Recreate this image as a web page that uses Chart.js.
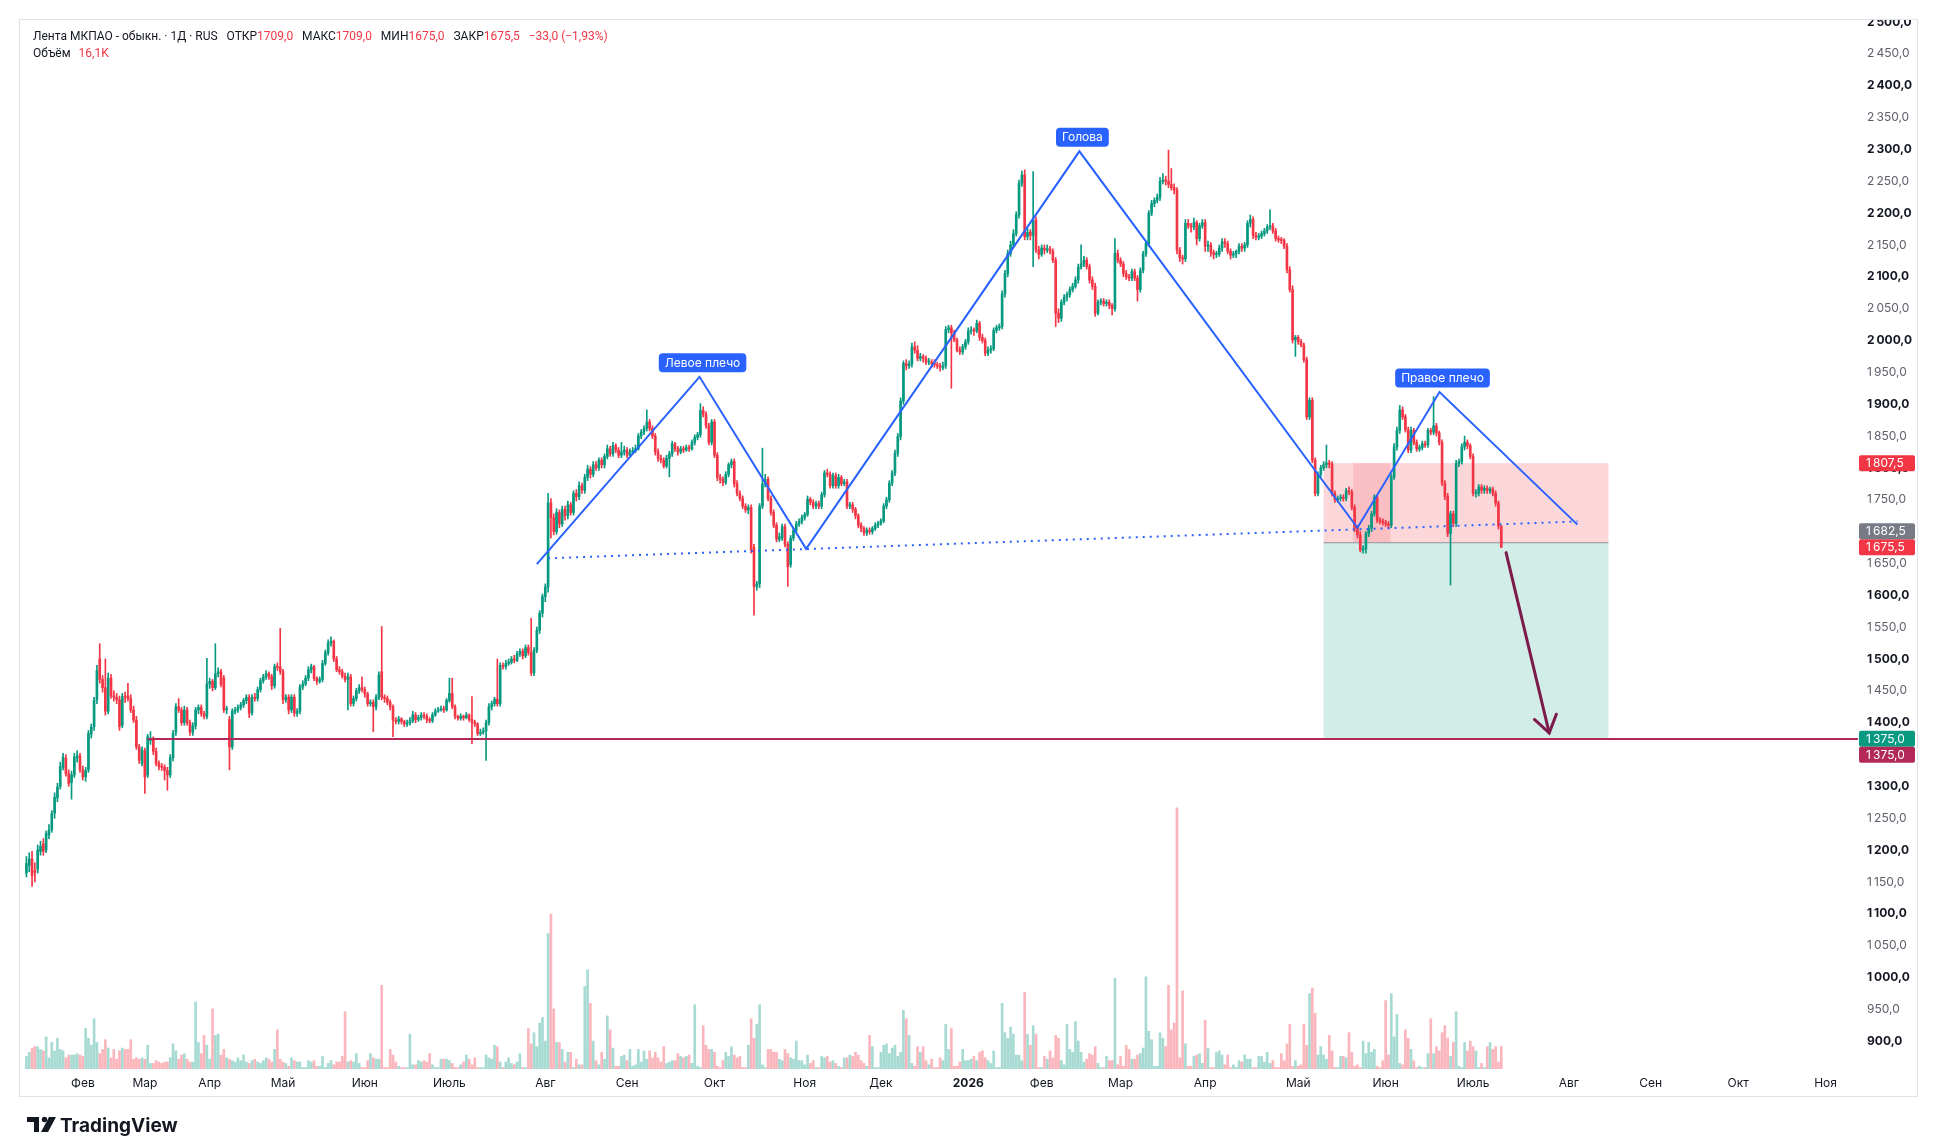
<!DOCTYPE html>
<html lang="ru">
<head>
<meta charset="utf-8">
<title>Лента МКПАО - обыкн. · 1Д</title>
<script src="https://cdn.jsdelivr.net/npm/chart.js@4.4.1/dist/chart.umd.min.js"></script>
<style>
  html, body { margin: 0; padding: 0; background: #fff; overflow: hidden; }
  #wrap { width: 1938px; height: 1142px; position: relative; }
</style>
</head>
<body>
<div id="wrap"><canvas id="chart"></canvas></div>
<script>
// daily candles (index 0 = first bar on the left)
const opens = [
  1164,1176,1186,1168,1170,1198,1210,1200,1224,1232,
  1258,1282,1300,1330,1344,1320,1306,1318,1345,1348,
  1326,1315,1326,1382,1394,1436,1500,1468,1455,1418,
  1470,1442,1440,1436,1396,1441,1442,1438,1420,1404,
  1362,1336,1356,1318,1372,1375,1355,1336,1331,1330,
  1325,1318,1345,1385,1425,1420,1400,1420,1400,1385,
  1395,1420,1424,1414,1410,1461,1465,1455,1477,1480,
  1470,1420,1405,1362,1418,1420,1424,1428,1435,1440,
  1415,1440,1438,1452,1466,1472,1477,1472,1458,1488,
  1488,1480,1436,1440,1420,1440,1415,1418,1456,1461,
  1470,1483,1488,1470,1465,1468,1493,1510,1525,1528,
  1500,1483,1480,1473,1468,1472,1430,1438,1450,1455,
  1452,1445,1430,1432,1425,1440,1480,1440,1438,1432,
  1425,1404,1402,1406,1402,1398,1400,1403,1412,1405,
  1408,1412,1410,1405,1403,1412,1418,1420,1422,1420,
  1435,1446,1425,1410,1407,1410,1408,1412,1405,1400,
  1398,1383,1385,1387,1400,1425,1430,1437,1430,1490,
  1488,1493,1495,1500,1498,1508,1512,1505,1518,1510,
  1478,1514,1545,1572,1598,1613,1745,1722,1700,1730,
  1712,1735,1725,1742,1730,1760,1755,1772,1765,1785,
  1798,1790,1805,1800,1812,1805,1818,1830,1822,1835,
  1828,1820,1825,1828,1820,1825,1827,1830,1850,1856,
  1862,1872,1862,1850,1825,1815,1812,1803,1815,1822,
  1838,1830,1825,1830,1828,1832,1830,1840,1848,1852,
  1890,1884,1866,1840,1872,1820,1785,1782,1777,1790,
  1805,1810,1775,1760,1752,1740,1734,1738,1675,1614,
  1618,1740,1775,1782,1752,1730,1710,1688,1690,1708,
  1680,1648,1690,1702,1712,1716,1722,1727,1751,1746,
  1740,1744,1740,1758,1792,1790,1772,1788,1772,1785,
  1775,1778,1740,1742,1735,1725,1710,1705,1698,1702,
  1700,1705,1710,1713,1717,1740,1750,1776,1792,1823,
  1849,1905,1964,1960,1963,1990,1985,1972,1975,1972,
  1966,1966,1964,1962,1960,1958,1960,2017,2020,2012,
  2001,1985,1982,1990,1998,2015,2016,2015,2027,2005,
  2000,1980,1985,1987,2016,2020,2022,2073,2105,2137,
  2150,2168,2197,2247,2260,2163,2170,2165,2189,2142,
  2135,2145,2142,2144,2140,2126,2043,2035,2060,2068,
  2072,2080,2085,2095,2115,2120,2126,2116,2095,2085,
  2043,2060,2062,2058,2060,2055,2050,2137,2126,2120,
  2105,2100,2098,2108,2098,2080,2110,2136,2152,2200,
  2215,2220,2225,2250,2252,2250,2245,2240,2236,2142,
  2130,2128,2184,2180,2178,2185,2160,2180,2185,2148,
  2150,2138,2135,2136,2145,2155,2152,2140,2134,2136,
  2140,2148,2145,2150,2184,2190,2165,2162,2164,2168,
  2172,2178,2180,2172,2160,2158,2157,2148,2111,2080,
  2001,2005,1998,1993,1970,1880,1906,1812,1760,1790,
  1800,1805,1808,1806,1760,1750,1752,1754,1752,1764,
  1762,1738,1705,1695,1671,1673,1697,1705,1728,1754,
  1718,1716,1714,1712,1710,1786,1833,1859,1891,1880,
  1860,1828,1859,1840,1830,1832,1838,1836,1859,1856,
  1866,1855,1840,1776,1755,1697,1728,1713,1807,1810,
  1833,1840,1835,1818,1760,1760,1770,1765,1768,1764,
  1767,1760,1745,1709
];
const highs = [
  1190,1196,1198,1180,1208,1214,1218,1230,1240,1262,
  1290,1305,1338,1352,1350,1326,1324,1352,1356,1352,
  1332,1330,1388,1398,1440,1490,1524,1474,1500,1478,
  1476,1450,1446,1442,1446,1448,1462,1444,1426,1410,
  1366,1362,1360,1382,1386,1378,1360,1340,1336,1334,
  1330,1350,1388,1430,1438,1424,1426,1424,1404,1400,
  1424,1428,1428,1418,1501,1470,1468,1524,1486,1484,
  1474,1426,1410,1422,1424,1428,1432,1438,1444,1444,
  1444,1446,1456,1470,1476,1482,1480,1476,1492,1494,
  1548,1484,1444,1444,1444,1444,1422,1460,1466,1474,
  1488,1492,1490,1472,1472,1498,1514,1530,1535,1530,
  1504,1488,1484,1478,1478,1476,1442,1454,1460,1472,
  1456,1448,1436,1436,1444,1480,1551,1444,1442,1436,
  1428,1408,1410,1408,1404,1404,1408,1418,1416,1412,
  1416,1416,1414,1408,1416,1422,1424,1426,1426,1438,
  1470,1470,1428,1412,1414,1412,1416,1414,1441,1404,
  1400,1390,1392,1404,1430,1434,1440,1500,1494,1494,
  1498,1500,1504,1506,1512,1516,1516,1522,1522,1564,
  1518,1550,1576,1602,1618,1760,1752,1728,1736,1734,
  1740,1740,1748,1746,1764,1766,1778,1776,1790,1804,
  1802,1810,1810,1816,1816,1822,1836,1834,1840,1838,
  1832,1840,1834,1832,1830,1832,1836,1854,1860,1866,
  1891,1876,1866,1854,1830,1820,1816,1820,1826,1842,
  1840,1834,1834,1834,1836,1836,1844,1852,1856,1901,
  1896,1888,1870,1876,1876,1824,1790,1786,1794,1808,
  1814,1814,1780,1764,1756,1744,1742,1742,1680,1622,
  1744,1831,1790,1786,1756,1734,1714,1698,1712,1712,
  1684,1694,1706,1716,1720,1726,1730,1756,1754,1750,
  1748,1748,1762,1796,1798,1794,1792,1792,1790,1788,
  1782,1782,1746,1746,1738,1728,1714,1708,1706,1706,
  1708,1714,1716,1720,1744,1754,1780,1796,1828,1854,
  1910,1968,1970,1968,1996,1998,1992,1980,1978,1976,
  1972,1970,1970,1966,1964,1966,2022,2024,2024,2016,
  2004,1990,1994,2002,2020,2022,2020,2032,2030,2010,
  2004,1990,1992,2020,2024,2026,2078,2110,2142,2156,
  2174,2202,2252,2266,2268,2176,2174,2265,2194,2148,
  2150,2150,2150,2148,2144,2130,2050,2064,2072,2076,
  2084,2090,2100,2120,2150,2132,2130,2120,2100,2090,
  2064,2066,2066,2064,2064,2058,2160,2142,2130,2124,
  2110,2104,2112,2112,2102,2114,2140,2156,2204,2220,
  2224,2230,2256,2262,2258,2299,2270,2246,2240,2146,
  2134,2190,2190,2184,2192,2188,2184,2190,2190,2156,
  2154,2142,2140,2150,2160,2160,2156,2144,2140,2142,
  2152,2152,2154,2188,2197,2194,2170,2168,2172,2176,
  2182,2205,2184,2176,2164,2162,2160,2152,2116,2086,
  2008,2008,2002,1996,1974,1910,1910,1816,1794,1804,
  1810,1836,1812,1810,1764,1756,1758,1758,1768,1770,
  1766,1742,1710,1700,1678,1700,1710,1732,1758,1758,
  1722,1720,1718,1716,1790,1838,1864,1898,1896,1884,
  1864,1864,1862,1844,1836,1842,1842,1862,1862,1912,
  1870,1858,1844,1780,1760,1732,1732,1812,1814,1838,
  1850,1844,1838,1822,1766,1774,1774,1772,1772,1770,
  1770,1764,1748,1709
];
const lows = [
  1158,1166,1143,1150,1164,1192,1192,1196,1218,1228,
  1250,1276,1296,1326,1316,1300,1280,1314,1338,1322,
  1310,1308,1322,1376,1388,1430,1462,1448,1412,1414,
  1438,1434,1430,1388,1392,1432,1434,1416,1400,1358,
  1336,1332,1289,1314,1366,1350,1332,1326,1325,1310,
  1294,1314,1340,1380,1416,1396,1396,1396,1380,1380,
  1390,1414,1410,1406,1406,1454,1450,1452,1472,1456,
  1416,1414,1326,1358,1414,1416,1420,1424,1430,1408,
  1412,1434,1434,1448,1462,1468,1468,1452,1454,1482,
  1476,1430,1432,1414,1416,1410,1410,1414,1452,1458,
  1466,1478,1466,1460,1462,1464,1490,1506,1520,1496,
  1480,1476,1470,1464,1420,1426,1426,1434,1446,1448,
  1440,1426,1426,1386,1420,1436,1436,1432,1428,1420,
  1378,1398,1398,1398,1394,1394,1396,1400,1400,1402,
  1404,1406,1400,1400,1400,1410,1416,1418,1416,1418,
  1432,1422,1406,1404,1404,1404,1406,1402,1367,1394,
  1380,1380,1382,1341,1396,1420,1426,1426,1426,1484,
  1484,1490,1492,1494,1496,1504,1500,1502,1506,1474,
  1474,1510,1540,1566,1590,1605,1690,1695,1696,1706,
  1708,1718,1720,1726,1726,1748,1750,1760,1760,1780,
  1784,1786,1796,1796,1800,1800,1814,1818,1818,1824,
  1816,1816,1820,1816,1818,1822,1824,1828,1846,1852,
  1858,1858,1846,1820,1810,1808,1800,1800,1786,1818,
  1826,1820,1822,1824,1826,1826,1828,1836,1844,1848,
  1880,1862,1836,1836,1816,1780,1776,1772,1774,1786,
  1800,1770,1756,1748,1736,1730,1728,1666,1569,1608,
  1612,1736,1770,1748,1726,1706,1684,1684,1686,1676,
  1614,1644,1686,1698,1708,1712,1718,1724,1742,1736,
  1736,1736,1736,1754,1786,1768,1768,1768,1768,1772,
  1772,1736,1736,1730,1720,1706,1700,1694,1694,1696,
  1696,1702,1706,1710,1714,1736,1746,1772,1788,1818,
  1844,1900,1954,1956,1958,1980,1968,1968,1966,1962,
  1962,1958,1958,1956,1952,1954,1956,2012,1925,1998,
  1982,1978,1978,1986,1994,2010,2008,2012,2000,1996,
  1976,1976,1980,1984,2012,2016,2018,2068,2100,2132,
  2146,2164,2192,2242,2158,2158,2158,2116,2138,2128,
  2132,2136,2138,2136,2122,2022,2028,2030,2056,2062,
  2068,2076,2082,2090,2112,2116,2112,2090,2080,2038,
  2040,2056,2054,2054,2050,2040,2046,2122,2116,2100,
  2096,2094,2094,2094,2062,2076,2106,2132,2148,2196,
  2210,2216,2220,2246,2244,2240,2236,2230,2136,2124,
  2120,2124,2176,2170,2174,2150,2156,2176,2140,2140,
  2132,2128,2130,2132,2140,2146,2136,2128,2130,2130,
  2136,2140,2140,2146,2178,2160,2158,2158,2160,2164,
  2168,2174,2168,2156,2154,2152,2144,2106,2076,1996,
  1975,1994,1990,1966,1876,1876,1808,1756,1756,1786,
  1796,1800,1800,1756,1746,1746,1748,1748,1748,1758,
  1734,1700,1690,1668,1666,1666,1692,1700,1724,1714,
  1712,1710,1708,1706,1706,1782,1828,1854,1876,1856,
  1824,1824,1836,1826,1826,1828,1832,1832,1852,1852,
  1850,1836,1772,1750,1692,1616,1708,1708,1802,1806,
  1828,1830,1814,1756,1754,1756,1760,1760,1760,1760,
  1756,1740,1704,1675
];
const closes = [
  1179,1186,1160,1165,1200,1206,1198,1226,1231,1257,
  1283,1299,1331,1346,1320,1305,1318,1346,1348,1326,
  1315,1325,1383,1393,1435,1482,1468,1455,1418,1470,
  1442,1440,1436,1394,1441,1440,1438,1420,1404,1362,
  1341,1357,1315,1378,1375,1355,1336,1331,1330,1325,
  1318,1345,1383,1425,1420,1400,1420,1400,1385,1395,
  1420,1424,1414,1410,1461,1465,1455,1477,1480,1460,
  1420,1422,1362,1418,1420,1424,1428,1435,1440,1415,
  1440,1438,1452,1466,1472,1477,1472,1458,1488,1487,
  1480,1436,1440,1420,1440,1415,1418,1456,1461,1470,
  1483,1488,1470,1465,1468,1493,1510,1525,1528,1500,
  1483,1480,1473,1468,1472,1430,1438,1450,1455,1452,
  1445,1430,1432,1425,1440,1475,1440,1438,1432,1425,
  1404,1402,1406,1402,1398,1400,1403,1412,1405,1408,
  1412,1410,1405,1403,1412,1418,1420,1422,1420,1435,
  1446,1425,1410,1407,1410,1408,1412,1405,1400,1398,
  1383,1385,1387,1400,1425,1430,1437,1430,1490,1488,
  1493,1495,1500,1498,1508,1512,1505,1518,1510,1478,
  1514,1545,1572,1598,1613,1745,1722,1700,1730,1712,
  1735,1725,1742,1730,1760,1755,1772,1765,1785,1798,
  1790,1805,1800,1812,1805,1818,1830,1822,1835,1828,
  1820,1825,1828,1820,1825,1827,1830,1850,1856,1862,
  1872,1862,1850,1825,1815,1812,1803,1815,1822,1838,
  1830,1825,1830,1828,1832,1830,1840,1848,1852,1890,
  1884,1866,1840,1872,1820,1785,1782,1777,1790,1805,
  1810,1775,1760,1752,1740,1734,1738,1671,1614,1618,
  1740,1775,1782,1752,1730,1710,1688,1692,1708,1680,
  1645,1690,1702,1712,1716,1722,1727,1751,1746,1740,
  1744,1740,1758,1792,1790,1772,1788,1772,1785,1775,
  1778,1740,1742,1735,1725,1710,1705,1698,1702,1700,
  1705,1710,1713,1717,1740,1750,1776,1792,1823,1849,
  1905,1964,1960,1963,1990,1985,1972,1975,1972,1966,
  1966,1964,1962,1960,1958,1960,2017,2020,2012,2001,
  1985,1982,1990,1998,2015,2016,2015,2027,2005,2000,
  1980,1985,1987,2016,2020,2022,2073,2105,2137,2150,
  2168,2197,2247,2260,2163,2170,2165,2189,2142,2135,
  2145,2142,2144,2140,2126,2043,2035,2060,2068,2072,
  2080,2085,2095,2115,2120,2126,2116,2095,2085,2043,
  2060,2062,2058,2060,2055,2050,2137,2126,2120,2105,
  2100,2098,2108,2098,2080,2110,2136,2152,2200,2215,
  2220,2225,2250,2252,2250,2245,2240,2236,2142,2130,
  2128,2184,2180,2178,2185,2160,2180,2185,2148,2150,
  2138,2135,2136,2145,2155,2152,2140,2134,2136,2140,
  2148,2145,2150,2184,2190,2165,2162,2164,2168,2172,
  2178,2180,2172,2160,2158,2157,2148,2111,2080,2001,
  2005,1998,1993,1970,1880,1906,1812,1760,1790,1800,
  1805,1808,1806,1760,1750,1752,1754,1752,1764,1762,
  1738,1705,1695,1671,1673,1697,1705,1728,1754,1718,
  1716,1714,1712,1710,1786,1833,1859,1891,1880,1860,
  1828,1859,1840,1830,1832,1838,1836,1859,1856,1866,
  1855,1840,1776,1755,1697,1728,1713,1807,1810,1833,
  1840,1835,1818,1760,1760,1770,1765,1768,1764,1767,
  1760,1745,1708.5,1675.5
];
// volume, thousands of shares
const volumes = [
  9,12,15,16,16,14,13,23,8,19,
  13,22,14,13,8,10,10,10,11,10,
  9,29,22,17,36,19,11,14,21,15,
  8,14,7,13,15,14,14,21,7,8,
  7,8,7,17,4,4,6,5,4,5,
  5,8,18,13,7,10,11,7,5,5,
  48,19,11,24,17,7,43,24,25,10,
  14,8,7,6,5,8,6,10,5,4,
  6,7,5,4,6,8,7,5,14,28,
  7,5,4,2,8,6,5,5,1,1,
  6,5,6,2,2,9,1,4,6,3,
  5,5,9,41,5,6,5,11,4,1,
  1,6,11,8,7,7,60,1,1,14,
  10,5,2,1,1,1,25,3,3,6,
  5,6,5,11,3,1,1,7,7,7,
  6,4,1,1,3,5,10,7,3,8,
  1,1,1,10,8,7,17,16,5,1,
  5,8,4,3,5,11,1,1,29,18,
  26,16,33,37,20,97,111,43,19,19,
  14,5,12,12,1,7,3,3,59,71,
  47,20,6,3,12,7,38,28,15,2,
  2,9,10,6,14,2,3,14,5,13,
  7,13,8,12,8,5,16,4,5,6,
  6,11,9,8,9,10,4,46,2,1,
  31,17,14,14,12,2,1,6,12,9,
  16,10,8,9,1,1,17,36,22,32,
  46,3,1,14,14,12,12,7,6,14,
  11,8,7,20,6,6,3,10,4,6,
  1,1,9,8,9,5,6,4,2,1,
  8,8,10,9,12,10,6,4,2,24,
  16,1,1,12,17,18,11,15,17,9,
  12,42,36,24,4,2,16,12,16,6,
  3,7,1,1,8,6,32,14,29,2,
  2,5,14,6,6,7,9,6,12,13,
  8,6,4,13,1,1,47,26,22,30,
  25,10,10,6,55,25,17,31,25,1,
  1,9,7,13,8,24,22,6,3,32,
  14,12,34,20,12,5,7,11,10,16,
  4,1,1,9,6,6,65,3,9,2,
  17,14,7,7,10,11,15,66,27,21,
  2,2,26,22,16,60,28,33,187,8,
  56,18,2,2,9,10,11,4,35,15,
  1,1,12,13,10,3,10,1,3,1,
  6,5,10,7,7,1,1,9,9,5,
  12,4,6,1,1,11,6,18,32,2,
  6,2,3,32,17,54,58,40,10,16,
  10,7,24,13,1,1,9,9,8,26,
  12,2,3,1,20,11,19,12,14,2,
  1,6,49,10,54,23,39,4,3,28,
  22,14,6,1,2,1,1,11,36,11,
  16,13,26,31,22,9,19,41,2,1,
  19,13,20,16,13,1,4,1,16,19,
  14,16,5,16.1
];

// time axis: bar index of the first bar of each month (future bars included)
const monthNames = ["Фев","Мар","Апр","Май","Июн","Июль","Авг","Сен","Окт","Ноя","Дек","2026",
                    "Фев","Мар","Апр","Май","Июн","Июль","Авг","Сен","Окт","Ноя"];
const monthIdx = [20,42,65,91,120,150,184,213,244,276,303,334,360,388,418,451,482,513,547,576,607,638];
const priceTicks = [2500,2450,2400,2350,2300,2250,2200,2150,2100,2050,2000,1950,1900,1850,1800,
                    1750,1700,1650,1600,1550,1500,1450,1400,1350,1300,1250,1200,1150,1100,1050,1000,950,900];

// head & shoulders drawing (bar index / price)
const patternIdx = [181, 238.7, 276.5, 373.4, 472, 501.1, 550];
const patternPrice = [1649, 1943, 1673, 2297, 1706, 1919, 1711];
const patternNames = ["", "Левое плечо", "", "Голова", "", "Правое плечо", ""];
const neckIdx = [185, 550];
const neckPrice = [1658, 1716];

// short position tool + support level + arrow
const positionIdx = [460, 561];
const filledIdx = [470.5, 483.7];
const stopLevel = 1807.5, entryLevel = 1682.5, targetLevel = 1375;
const supportLevel = 1375, supportFrom = 43;
const arrowIdx = [524.7, 540];
const arrowPrice = [1667, 1384];

const n = closes.length;
const UP = "#089981", DOWN = "#f23645", BLUE = "#2962ff";
const upBar = closes.map((c, i) => c >= opens[i]);
const candleColors = upBar.map(u => u ? UP : DOWN);
const volColors = upBar.map(u => u ? "rgba(8,153,129,0.36)" : "rgba(242,54,69,0.36)");

function fmtNum(v) {
  const s = v.toFixed(1).replace(".", ",");
  return Math.abs(v) >= 1000 ? s.slice(0, -5) + "\u202F" + s.slice(-5) : s;
}

const decor = {
  id: "decor",
  beforeDraw(chart) {
    const c = chart.ctx;
    c.save();
    c.fillStyle = "#ffffff";
    c.fillRect(0, 0, chart.width, chart.height);
    c.restore();
  },
  beforeDatasetsDraw(chart) {
    const c = chart.ctx, x = chart.scales.x, y = chart.scales.y;
    const x0 = x.getPixelForValue(positionIdx[0]), x1 = x.getPixelForValue(positionIdx[1]);
    const ys = y.getPixelForValue(stopLevel), ye = y.getPixelForValue(entryLevel), yt = y.getPixelForValue(targetLevel);
    c.save();
    c.fillStyle = "rgba(242,54,69,0.2)";
    c.fillRect(x0, ys, x1 - x0, ye - ys);
    c.fillStyle = "rgba(8,153,129,0.18)";
    c.fillRect(x0, ye, x1 - x0, yt - ye);
    const f0 = x.getPixelForValue(filledIdx[0]), f1 = x.getPixelForValue(filledIdx[1]);
    c.fillStyle = "rgba(242,54,69,0.15)";
    c.fillRect(f0, ys, f1 - f0, ye - ys);
    c.strokeStyle = "#8f929c";
    c.lineWidth = 1;
    c.beginPath(); c.moveTo(x0, ye); c.lineTo(x1, ye); c.stroke();
    c.restore();
  },
  afterDatasetsDraw(chart) {
    const c = chart.ctx, x = chart.scales.x, y = chart.scales.y, area = chart.chartArea;
    c.save();
    // support ray
    const yr = Math.round(y.getPixelForValue(supportLevel));
    c.strokeStyle = "#b22858";
    c.lineWidth = 2;
    c.beginPath(); c.moveTo(x.getPixelForValue(supportFrom), yr); c.lineTo(area.right, yr); c.stroke();
    // arrow
    const ax0 = x.getPixelForValue(arrowIdx[0]), ay0 = y.getPixelForValue(arrowPrice[0]);
    const ax1 = x.getPixelForValue(arrowIdx[1]), ay1 = y.getPixelForValue(arrowPrice[1]);
    const ang = Math.atan2(ay1 - ay0, ax1 - ax0);
    c.strokeStyle = "#7d1a4c";
    c.lineWidth = 3;
    c.lineCap = "round";
    c.beginPath(); c.moveTo(ax0, ay0); c.lineTo(ax1, ay1); c.stroke();
    c.beginPath();
    c.moveTo(ax1 - 20 * Math.cos(ang - 0.6), ay1 - 20 * Math.sin(ang - 0.6));
    c.lineTo(ax1, ay1);
    c.lineTo(ax1 - 20 * Math.cos(ang + 0.6), ay1 - 20 * Math.sin(ang + 0.6));
    c.stroke();
    // pattern labels
    c.font = "12px Inter";
    c.textAlign = "center";
    c.textBaseline = "middle";
    patternNames.forEach((name, i) => {
      if (!name) return;
      const px = x.getPixelForValue(patternIdx[i]) + 3;
      const py = y.getPixelForValue(patternPrice[i]) - 14;
      const w = c.measureText(name).width + 12, h = 19;
      c.fillStyle = BLUE;
      c.beginPath();
      c.roundRect(px - w / 2, py - h / 2, w, h, 4);
      c.fill();
      c.fillStyle = "#ffffff";
      c.fillText(name, px, py + 0.5);
    });
    c.restore();
  },
  afterDraw(chart) {
    const c = chart.ctx, y = chart.scales.y, area = chart.chartArea;
    c.save();
    // cut the top label at the frame
    c.fillStyle = "#ffffff";
    c.fillRect(area.right, 0, chart.width - area.right, 19);
    // frame
    c.strokeStyle = "#e0e3eb";
    c.lineWidth = 1;
    c.strokeRect(19.5, 19.5, 1917 - 19, 1096 - 19);
    // price tags on the scale
    const tags = [
      { v: closes[n - 1], color: DOWN },
      { v: stopLevel, color: DOWN },
      { v: entryLevel, color: "#787b86" },
      { v: targetLevel, color: UP },
      { v: supportLevel, color: "#b22858" }
    ];
    const placed = [];
    c.font = "12px Inter";
    c.textAlign = "left";
    c.textBaseline = "middle";
    tags.forEach(t => {
      let py = y.getPixelForValue(t.v);
      placed.forEach(p => {
        if (Math.abs(py - p.py) < 16) py = t.v > p.v ? p.py - 16 : p.py + 16;
      });
      placed.push({ v: t.v, py });
      c.fillStyle = t.color;
      c.beginPath();
      c.roundRect(area.right + 1, py - 8, 56, 16, 2);
      c.fill();
      c.fillStyle = "#ffffff";
      c.fillText(fmtNum(t.v), area.right + 8, py + 0.5);
    });
    // legend header
    const o = opens[n - 1], h = highs[n - 1], l = lows[n - 1], cl = closes[n - 1];
    const chg = cl - closes[n - 2];
    const pct = chg / closes[n - 2] * 100;
    const chgTxt = (chg < 0 ? "\u2212" : "+") + Math.abs(chg).toFixed(1).replace(".", ",") +
      " (" + (pct < 0 ? "\u2212" : "+") + Math.abs(pct).toFixed(2).replace(".", ",") + "%)";
    const parts = [
      ["Лента МКПАО - обыкн. · 1Д · RUS", "#131722"],
      ["   ОТКР", "#131722"], [fmtNum(o).replace("\u202F", ""), DOWN],
      ["   МАКС", "#131722"], [fmtNum(h).replace("\u202F", ""), DOWN],
      ["   МИН", "#131722"], [fmtNum(l).replace("\u202F", ""), DOWN],
      ["   ЗАКР", "#131722"], [fmtNum(cl).replace("\u202F", ""), DOWN],
      ["   " + chgTxt, DOWN]
    ];
    c.font = "12px Roboto";
    c.textBaseline = "alphabetic";
    let tx = 33;
    parts.forEach(p => {
      c.fillStyle = p[1];
      c.fillText(p[0], tx, 40);
      tx += c.measureText(p[0]).width;
    });
    c.fillStyle = "#131722";
    c.fillText("Объём", 33, 57);
    c.fillStyle = DOWN;
    c.fillText(volumes[n - 1].toFixed(1).replace(".", ",") + "K", 33 + c.measureText("Объём  ").width + 2, 57);
    // TradingView mark
    c.fillStyle = "#131722";
    c.fillRect(27, 1117, 12, 5);
    c.fillRect(34, 1117, 5, 15);
    c.beginPath(); c.arc(44.5, 1119.5, 2.7, 0, Math.PI * 2); c.fill();
    c.beginPath();
    c.moveTo(49, 1117); c.lineTo(56, 1117); c.lineTo(48, 1132); c.lineTo(41, 1132);
    c.closePath(); c.fill();
    c.font = "bold 19px Inter";
    c.fillText("TradingView", 60, 1132);
    c.restore();
  }
};

new Chart(document.getElementById("chart").getContext("2d"), {
  type: "bar",
  data: {
    datasets: [
      {
        type: "line",
        data: patternIdx.map((v, i) => ({ x: v, y: patternPrice[i] })),
        borderColor: BLUE,
        borderWidth: 2,
        pointRadius: 0,
        tension: 0,
        order: 0
      },
      {
        type: "line",
        data: neckIdx.map((v, i) => ({ x: v, y: neckPrice[i] })),
        borderColor: BLUE,
        borderWidth: 2,
        borderDash: [2, 5],
        pointRadius: 0,
        order: 1
      },
      {
        data: closes.map((c, i) => ({ x: i, y: [opens[i], c] })),
        backgroundColor: candleColors,
        barThickness: 2,
        minBarLength: 1,
        grouped: false,
        order: 2
      },
      {
        data: closes.map((c, i) => ({ x: i, y: [lows[i], highs[i]] })),
        backgroundColor: candleColors,
        barThickness: 1,
        grouped: false,
        order: 3
      },
      {
        data: volumes.map((v, i) => ({ x: i, y: v })),
        backgroundColor: volColors,
        barThickness: 2,
        grouped: false,
        yAxisID: "v",
        order: 4
      }
    ]
  },
  options: {
    responsive: true,
    maintainAspectRatio: false,
    animation: false,
    devicePixelRatio: 1,
    layout: { padding: { left: 25, right: 21, top: 19, bottom: 46 } },
    plugins: { legend: { display: false }, tooltip: { enabled: false } },
    scales: {
      x: {
        type: "linear",
        min: -0.5,
        max: 649.5,
        offset: false,
        grid: { display: false, drawTicks: false },
        border: { display: false },
        afterBuildTicks: s => { s.ticks = monthIdx.map(v => ({ value: v })); },
        afterFit: s => { s.height = 27; },
        ticks: {
          autoSkip: false,
          maxRotation: 0,
          padding: 7,
          color: "#131722",
          font: ctx => ({
            family: "Inter", size: 12,
            weight: ctx.tick && monthNames[monthIdx.indexOf(ctx.tick.value)] === "2026" ? "bold" : "normal"
          }),
          callback: v => monthNames[monthIdx.indexOf(v)]
        }
      },
      y: {
        position: "right",
        min: 856.4,
        max: 2504.7,
        grid: { display: false, drawTicks: false },
        border: { display: false },
        afterBuildTicks: s => { s.ticks = priceTicks.map(v => ({ value: v })); },
        afterFit: s => { s.width = 59; },
        ticks: {
          padding: 9,
          color: ctx => ctx.tick && ctx.tick.value % 100 === 0 ? "#131722" : "#5d606b",
          font: ctx => ({
            family: "Inter", size: 12,
            weight: ctx.tick && ctx.tick.value % 100 === 0 ? "bold" : "normal"
          }),
          callback: v => fmtNum(v)
        }
      },
      v: { display: false, min: 0, max: 752 }
    }
  },
  plugins: [decor]
});
</script>
</body>
</html>
